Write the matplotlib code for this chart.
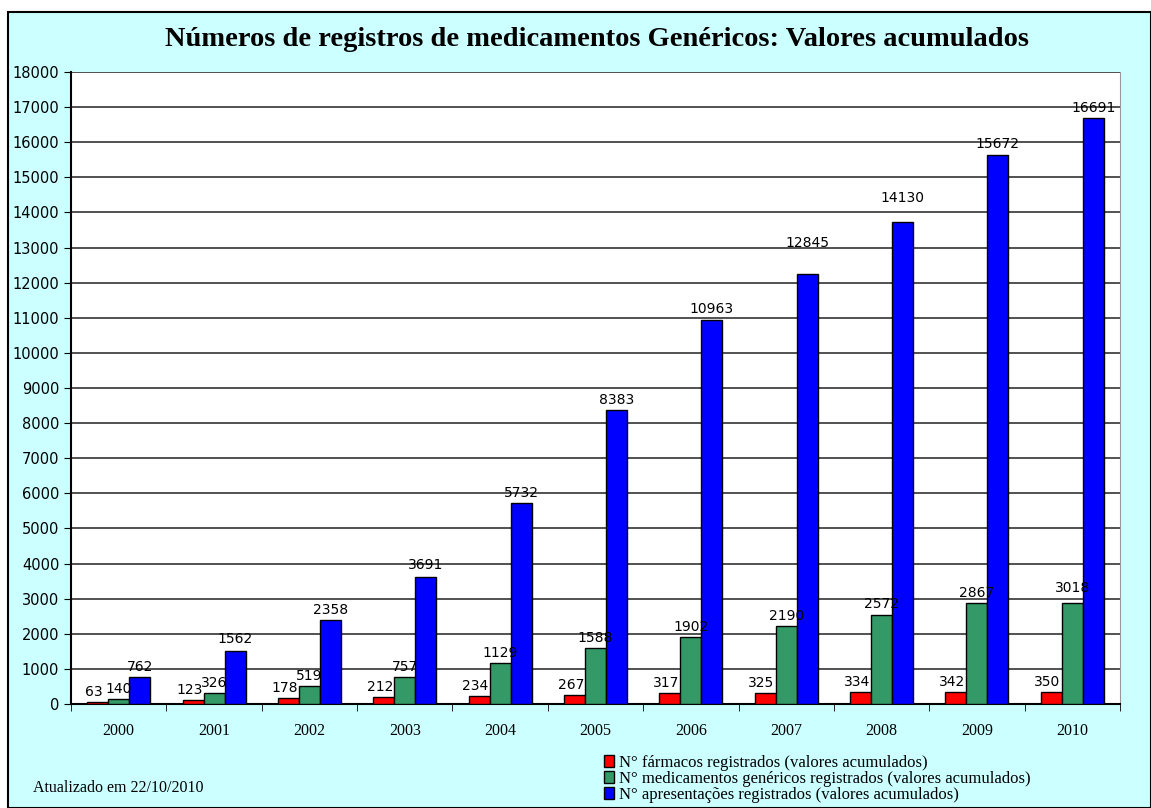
import numpy as np
import matplotlib.pyplot as plt
from matplotlib.patches import Rectangle

years = ['2000', '2001', '2002', '2003', '2004', '2005', '2006', '2007', '2008', '2009', '2010']

# bar heights as drawn in the picture
farmacos = [63, 123, 178, 212, 234, 267, 317, 325, 334, 342, 350]
medicamentos = [140, 310, 519, 770, 1170, 1588, 1902, 2220, 2540, 2880, 2880]
apresentacoes = [762, 1510, 2390, 3620, 5732, 8383, 10940, 12250, 13730, 15640, 16700]

# values printed above the bars
farmacos_lbl = [63, 123, 178, 212, 234, 267, 317, 325, 334, 342, 350]
medicamentos_lbl = [140, 326, 519, 757, 1129, 1588, 1902, 2190, 2572, 2867, 3018]
apresentacoes_lbl = [762, 1562, 2358, 3691, 5732, 8383, 10963, 12845, 14130, 15672, 16691]

series_names = ['N° fármacos registrados (valores acumulados)',
                'N° medicamentos genéricos registrados (valores acumulados)',
                'N° apresentações registrados (valores acumulados)']
colors = ['#FF0000', '#339966', '#0000FF']

bg = '#CCFFFF'
fig = plt.figure(figsize=(11.51, 8.08), dpi=100, facecolor='white')
fig.patches.append(Rectangle((0.007, 0.0), 0.993, 0.985, transform=fig.transFigure,
                             facecolor=bg, edgecolor='black', linewidth=1.5, zorder=-1))

ax = fig.add_axes([71 / 1151, 1 - 704 / 808, (1120 - 71) / 1151, (704 - 72) / 808])
ax.set_facecolor('white')

x = np.arange(len(years))
w = 0.22
data = [farmacos, medicamentos, apresentacoes]
labels = [farmacos_lbl, medicamentos_lbl, apresentacoes_lbl]
for i, (vals, lbls, c, name) in enumerate(zip(data, labels, colors, series_names)):
    pos = x + (i - 1) * w
    ax.bar(pos, vals, width=w, color=c, edgecolor='black', linewidth=1, label=name, zorder=3)
    for p, v, l in zip(pos, vals, lbls):
        # red labels sit a little to the left, like in the original
        dx = -0.04 if i == 0 else 0.0
        ax.text(p + dx, max(v, l) + 80, str(l), ha='center', va='bottom',
                fontsize=10, family='DejaVu Sans', color='black', zorder=4)

ax.set_xlim(-0.5, len(years) - 0.5)
ax.set_ylim(0, 18000)
ax.set_yticks(np.arange(0, 18001, 1000))
ax.set_yticklabels([str(v) for v in range(0, 18001, 1000)], fontsize=10.5, family='DejaVu Sans')
ax.set_xticks(x)
ax.set_xticklabels(years, fontsize=11.5, family='Liberation Serif')
ax.set_xticks(np.arange(-0.5, len(years), 1), minor=True)
ax.tick_params(axis='x', which='major', length=0, pad=14)
ax.tick_params(axis='x', which='minor', length=5, direction='out', color='black')
ax.tick_params(axis='y', length=5, direction='out', color='black')
ax.yaxis.grid(True, color='#333333', linewidth=1.2, zorder=0)
ax.set_axisbelow(True)
ax.spines['top'].set_visible(False)
ax.spines['right'].set_color('#999999')
ax.spines['left'].set_linewidth(1.5)
ax.spines['bottom'].set_linewidth(1.5)

fig.text(597 / 1151, 1 - 40 / 808, 'Números de registros de medicamentos Genéricos: Valores acumulados',
         ha='center', va='center', fontsize=20.5, fontweight='bold', family='Liberation Serif')
fig.text(33 / 1151, 1 - 788 / 808, 'Atualizado em 22/10/2010', ha='left', va='center',
         fontsize=11.5, family='Liberation Serif')

fig.legend(loc='lower left', bbox_to_anchor=(594 / 1151, -0.006), frameon=False,
           prop={'family': 'Liberation Serif', 'size': 12}, handlelength=0.6, handleheight=0.7,
           handletextpad=0.3, labelspacing=0.0, borderpad=0.1)

fig.savefig('out.png', dpi=100, facecolor=fig.get_facecolor())
